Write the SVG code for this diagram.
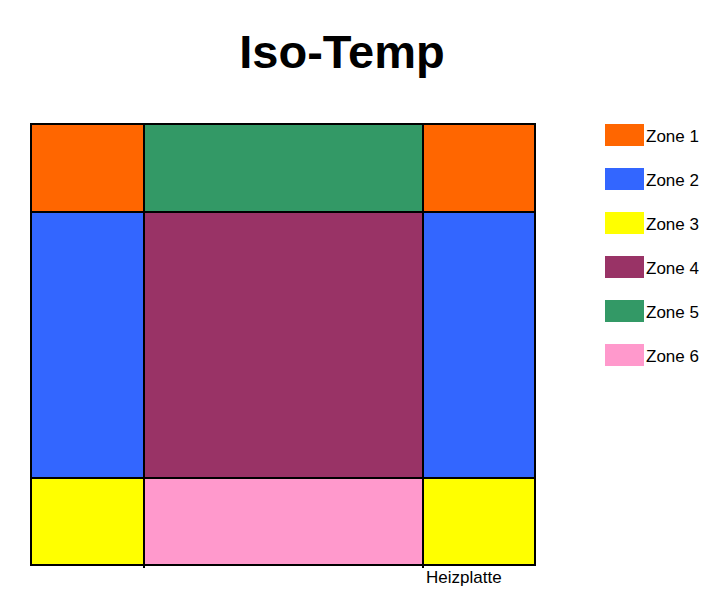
<svg xmlns="http://www.w3.org/2000/svg" width="716" height="600" viewBox="0 0 716 600">
<style>
.cell{stroke:#000;stroke-width:2}
.z1{fill:#FF6600}.z2{fill:#3366FF}.z3{fill:#FFFF00}.z4{fill:#993366}.z5{fill:#339966}.z6{fill:#FF99CC}
.lbl{font-family:"Liberation Sans",Arial,sans-serif;font-size:17px;fill:#000}
.title{font-family:"Liberation Sans",Arial,sans-serif;font-size:47px;font-weight:bold;fill:#000}
</style>
<rect width="716" height="600" fill="#fff"/>
<text class="title" x="342" y="68" text-anchor="middle">Iso-Temp</text>
<g id="cell-top-left"><rect class="cell z1" x="31" y="124" width="113" height="88"/></g>
<g id="cell-top-mid"><rect class="cell z5" x="144" y="124" width="279" height="88"/></g>
<g id="cell-top-right"><rect class="cell z1" x="423" y="124" width="112" height="88"/></g>
<g id="cell-mid-left"><rect class="cell z2" x="31" y="212" width="113" height="266"/></g>
<g id="cell-center"><rect class="cell z4" x="144" y="212" width="279" height="266"/></g>
<g id="cell-mid-right"><rect class="cell z2" x="423" y="212" width="112" height="266"/></g>
<g id="cell-bot-left"><rect class="cell z3" x="31" y="478" width="113" height="87"/></g>
<g id="cell-bot-mid"><rect class="cell z6" x="144" y="478" width="279" height="87"/></g>
<g id="cell-bot-right"><rect class="cell z3" x="423" y="478" width="112" height="87"/></g>
<g id="ticks" stroke="#000" stroke-width="2">
<line x1="144" y1="565" x2="144" y2="568"/>
<line x1="423" y1="565" x2="423" y2="568"/>
</g>
<text class="lbl" x="426" y="583">Heizplatte</text>
<g id="legend">
<g id="legend-1"><rect class="z1" x="605" y="124" width="39" height="22"/><text class="lbl" x="646" y="142">Zone 1</text></g>
<g id="legend-2"><rect class="z2" x="605" y="168" width="39" height="22"/><text class="lbl" x="646" y="186">Zone 2</text></g>
<g id="legend-3"><rect class="z3" x="605" y="212" width="39" height="22"/><text class="lbl" x="646" y="230">Zone 3</text></g>
<g id="legend-4"><rect class="z4" x="605" y="256" width="39" height="22"/><text class="lbl" x="646" y="274">Zone 4</text></g>
<g id="legend-5"><rect class="z5" x="605" y="300" width="39" height="22"/><text class="lbl" x="646" y="318">Zone 5</text></g>
<g id="legend-6"><rect class="z6" x="605" y="344" width="39" height="22"/><text class="lbl" x="646" y="362">Zone 6</text></g>
</g>
</svg>
